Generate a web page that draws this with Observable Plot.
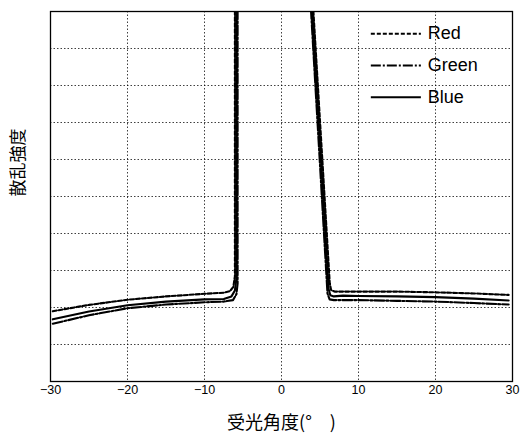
<!DOCTYPE html>
<html><head><meta charset="utf-8">
<script src="https://cdn.jsdelivr.net/npm/d3@7"></script>
<script src="https://cdn.jsdelivr.net/npm/@observablehq/plot@0.6"></script>
<style>body{margin:0;background:#fff}</style>
</head><body><div id="chart"></div>
<script>
// ---- data ----
const seriesNames = ["Red", "Green", "Blue"];
const xTicks = [-30, -20, -10, 0, 10, 20, 30];
const xGrid = [-20, -10, 0, 10, 20];
const yGrid = [1, 2, 3, 4, 5, 6, 7, 8, 9];
const xLabel = "受光角度(°\u3000)";
const yLabel = "散乱強度";

// left branch (from -30 up to the left edge of the peak)
const redLeftX   = [-29.7, -25, -20, -15, -10, -7.5, -6.7, -6.25, -6.05, -6.05];
const redLeftY   = [1.90, 2.07, 2.21, 2.30, 2.37, 2.40, 2.44, 2.56, 2.85, 10.5];
const greenLeftX = [-29.7, -25, -20, -15, -10, -7.5, -6.3, -5.85, -5.7, -5.7];
const greenLeftY = [1.56, 1.79, 1.98, 2.08, 2.14, 2.16, 2.20, 2.36, 2.65, 10.5];
const blueLeftX  = [-29.7, -25, -20, -15, -10, -7.5, -6.5, -6.05, -5.88, -5.88];
const blueLeftY  = [1.68, 1.89, 2.06, 2.16, 2.22, 2.23, 2.30, 2.46, 2.75, 10.5];

// right branch (from the right edge of the peak out to +30)
const redRightX   = [4.0, 6.27, 6.45, 6.9, 10, 15, 20, 25, 29.5];
const redRightY   = [10.5, 2.65, 2.47, 2.43, 2.43, 2.43, 2.41, 2.38, 2.34];
const greenRightX = [3.7, 5.97, 6.25, 6.8, 10, 15, 20, 25, 29.5];
const greenRightY = [10.5, 2.38, 2.22, 2.20, 2.20, 2.18, 2.16, 2.12, 2.08];
const blueRightX  = [3.85, 6.12, 6.34, 6.8, 8, 10, 15, 20, 25, 29.5];
const blueRightY  = [10.5, 2.5, 2.33, 2.30, 2.32, 2.31, 2.30, 2.28, 2.24, 2.19];

const dashes = {Red: "4,2", Green: "10,2,2,2", Blue: "none"};

// ---- build table ----
function rows(name, side, xs, ys) {
  return xs.map((x, i) => ({series: name, seg: name + side, x, y: ys[i]}));
}
const data = {
  Red:   [...rows("Red", "L", redLeftX, redLeftY), ...rows("Red", "R", redRightX, redRightY)],
  Green: [...rows("Green", "L", greenLeftX, greenLeftY), ...rows("Green", "R", greenRightX, greenRightY)],
  Blue:  [...rows("Blue", "L", blueLeftX, blueLeftY), ...rows("Blue", "R", blueRightX, blueRightY)]
};

// legend rows placed in the upper-right corner of the frame (data space)
const legend = seriesNames.map((s, i) => ({series: s, y: 9.4 - i * 0.86, x1: 11.6, x2: 18.1, xt: 19.0}));

const fmt = d => d < 0 ? "\u2212" + (-d) : String(d);

const lineMarks = seriesNames.map(s => Plot.line(data[s], {
  x: "x", y: "y", z: "seg", stroke: "#000", strokeWidth: 2.1,
  strokeDasharray: dashes[s], clip: true, curve: "linear"
}));
const legendMarks = seriesNames.map(s => Plot.link(legend.filter(d => d.series === s), {
  x1: "x1", x2: "x2", y1: "y", y2: "y", stroke: "#000", strokeWidth: 2,
  strokeDasharray: dashes[s]
}));

const chart = Plot.plot({
  width: 523, height: 448,
  marginLeft: 50, marginRight: 11, marginTop: 11, marginBottom: 67,
  style: {fontFamily: "'Liberation Sans', Arial, sans-serif", background: "#fff", color: "#000"},
  x: {domain: [-30, 30], axis: null},
  y: {domain: [0, 10], axis: null},
  marks: [
    Plot.gridY(yGrid, {stroke: "#000", strokeOpacity: 0.75, strokeDasharray: "1.5,2"}),
    Plot.gridX(xGrid, {stroke: "#000", strokeOpacity: 0.75, strokeDasharray: "1.5,2"}),
    Plot.axisX(xTicks, {tickSize: 0, tickPadding: 4, tickFormat: fmt, fontSize: 12.5, label: null}),
    ...lineMarks,
    ...legendMarks,
    Plot.text(legend, {x: "xt", y: "y", text: "series", textAnchor: "start", fontSize: 18, fill: "#000"}),
    Plot.frame({stroke: "#000", strokeWidth: 1.3}),
    Plot.text([yLabel], {frameAnchor: "left", text: d => d, rotate: -90, dx: -32, fontSize: 17,
      fontFamily: "'Noto Sans CJK JP', sans-serif", fill: "#000"}),
    Plot.text([xLabel], {frameAnchor: "bottom", text: d => d, dy: 47, fontSize: 18,
      fontFamily: "'Noto Sans CJK JP', sans-serif", fill: "#000"})
  ]
});
document.getElementById("chart").appendChild(chart);
</script>
</body></html>
